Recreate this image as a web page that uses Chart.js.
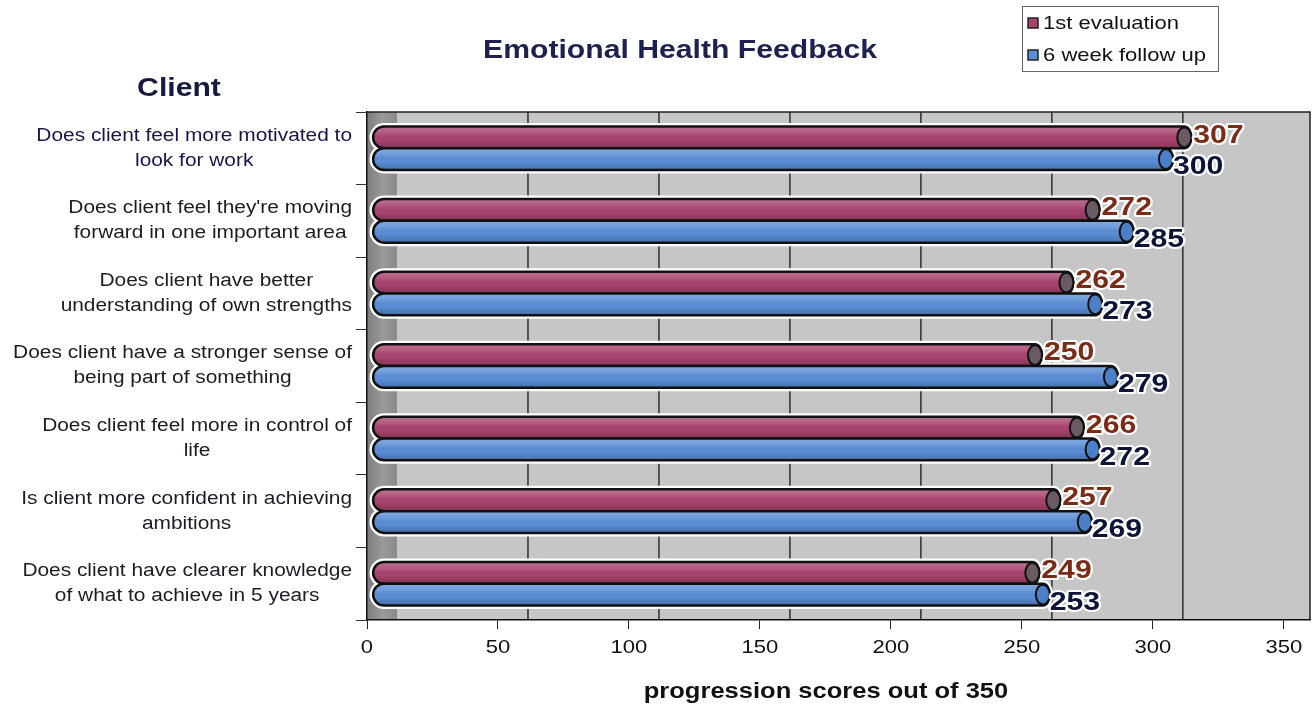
<!DOCTYPE html>
<html>
<head>
<meta charset="utf-8">
<title>Emotional Health Feedback</title>
<script src="https://cdn.jsdelivr.net/npm/chart.js@4.4.1/dist/chart.umd.min.js"></script>
<style>
  html, body { margin: 0; padding: 0; background: #fff; }
  #wrap { width: 1312px; height: 708px; position: relative; }
</style>
</head>
<body>
<div id="wrap"><canvas id="chart" width="1312" height="708"></canvas></div>
<script>
// dane z wykresu
const categories = [
    ['Does client feel more motivated to', 'look for work'],
    ["Does client feel they're moving", 'forward in one important area'],
    ['Does client have better', 'understanding of own strengths'],
    ['Does client have a stronger sense of', 'being part of something'],
    ['Does client feel more in control of', 'life'],
    ['Is client more confident in achieving', 'ambitions'],
    ['Does client have clearer knowledge', 'of what to achieve in 5 years']
];
const seriesNames = ['1st evaluation', '6 week follow up'];
const firstEval = [307, 272, 262, 250, 266, 257, 249];
const followUp = [300, 285, 273, 279, 272, 269, 253];
const xTickValues = [0, 50, 100, 150, 200, 250, 300, 350];

const FONT = '"Liberation Sans", Arial, Helvetica, sans-serif';
const STRETCH = 1.16; // tekst w oryginale jest szerszy
const pink = '#a8436f';
const blue = '#5a8ed6';
const capColors = ['#6a5a61', '#4b80c9'];
const labelColors = ['#7a2c17', '#0c1538'];

// rysowanie rozciagnietego poziomo tekstu
function wideText(ctx, text, x, y, halo) {
    ctx.save();
    ctx.translate(x, y);
    ctx.scale(STRETCH, 1);
    if (halo) {
        ctx.strokeStyle = '#fff';
        ctx.lineWidth = halo;
        ctx.lineJoin = 'round';
        ctx.strokeText(text, 0, 0);
    }
    ctx.fillText(text, 0, 0);
    ctx.restore();
}

// tlo wykresu: szara sciana, lewa sciana 3D, linie siatki przesuniete w glab
const backdrop = {
    id: 'backdrop',
    beforeDraw(chart) {
        const { ctx, chartArea: a } = chart;
        const xs = chart.scales.x;
        const depth = 30;
        ctx.save();
        ctx.fillStyle = '#fff';
        ctx.fillRect(0, 0, chart.width, chart.height);
        ctx.fillStyle = '#c6c6c6';
        ctx.fillRect(a.left, a.top, a.right - a.left, a.bottom - a.top);
        const g = ctx.createLinearGradient(a.left, 0, a.left + depth, 0);
        g.addColorStop(0, '#7d7d7d');
        g.addColorStop(0.5, '#9a9a9a');
        g.addColorStop(1, '#8a8a8a');
        ctx.fillStyle = g;
        ctx.fillRect(a.left, a.top, depth, a.bottom - a.top);
        ctx.strokeStyle = '#243232';
        ctx.lineWidth = 1.5;
        xTickValues.forEach(v => {
            if (v === 0) return;
            const px = xs.getPixelForValue(v) + depth;
            if (px >= a.right - 2) return;
            ctx.beginPath();
            ctx.moveTo(px, a.top);
            ctx.lineTo(px, a.bottom);
            ctx.stroke();
        });
        ctx.strokeStyle = '#222';
        ctx.lineWidth = 1.5;
        ctx.beginPath();
        ctx.moveTo(a.left, a.top);
        ctx.lineTo(a.right, a.top);
        ctx.lineTo(a.right, a.bottom);
        ctx.stroke();
        ctx.restore();
    }
};

function barPath(ctx, x, y, base, h) {
    const r = h / 2;
    const left = base - 7;
    ctx.beginPath();
    ctx.moveTo(left + r, y - r);
    ctx.lineTo(x, y - r);
    ctx.ellipse(x, y, 7, r, 0, -Math.PI / 2, Math.PI / 2);
    ctx.lineTo(left + r, y + r);
    ctx.arc(left + r, y, r, Math.PI / 2, Math.PI * 1.5);
    ctx.closePath();
}

// walce zamiast plaskich slupkow + etykiety wartosci
const cylinders = {
    id: 'cylinders',
    afterDatasetsDraw(chart) {
        const ctx = chart.ctx;
        const items = [];
        chart.data.datasets.forEach((ds, di) => {
            chart.getDatasetMeta(di).data.forEach((el, i) => {
                const p = el.getProps(['x', 'y', 'base', 'height'], true);
                items.push({ di, i, p, color: ds.backgroundColor, value: ds.data[i] });
            });
        });
        ctx.save();
        // bialy obrys
        items.forEach(({ p }) => {
            barPath(ctx, p.x, p.y, p.base, p.height);
            ctx.strokeStyle = '#fff';
            ctx.lineWidth = 7;
            ctx.stroke();
        });
        items.forEach(({ di, p, color }) => {
            const h = p.height;
            barPath(ctx, p.x, p.y, p.base, h);
            ctx.fillStyle = color;
            ctx.fill();
            const g = ctx.createLinearGradient(0, p.y - h / 2, 0, p.y + h / 2);
            g.addColorStop(0, 'rgba(255,255,255,0.25)');
            g.addColorStop(0.3, 'rgba(255,255,255,0.12)');
            g.addColorStop(0.6, 'rgba(0,0,0,0)');
            g.addColorStop(1, 'rgba(0,0,0,0.22)');
            ctx.fillStyle = g;
            ctx.fill();
            ctx.strokeStyle = '#111';
            ctx.lineWidth = 2.5;
            ctx.stroke();
            ctx.beginPath();
            ctx.ellipse(p.x, p.y, 7, h / 2 - 1, 0, 0, Math.PI * 2);
            ctx.fillStyle = capColors[di];
            ctx.fill();
            ctx.lineWidth = 2;
            ctx.stroke();
        });
        ctx.font = 'bold 26px ' + FONT;
        ctx.textBaseline = 'middle';
        ctx.textAlign = 'left';
        items.forEach(({ di, p, value }) => {
            const tx = p.x + (di === 0 ? 9 : 7);
            const ty = p.y + (di === 0 ? -2 : 8);
            ctx.fillStyle = labelColors[di];
            wideText(ctx, String(value), tx, ty, 4);
        });
        ctx.restore();
    }
};

// tytuly, legenda, etykiety osi
const texts = {
    id: 'texts',
    afterDraw(chart) {
        const { ctx } = chart;
        const ys = chart.scales.y;
        const xs = chart.scales.x;
        ctx.save();
        ctx.textBaseline = 'middle';
        ctx.textAlign = 'center';
        ctx.fillStyle = '#1c2150';
        ctx.font = 'bold 26px ' + FONT;
        wideText(ctx, 'Emotional Health Feedback', 680, 51);
        ctx.fillStyle = '#161a3c';
        wideText(ctx, 'Client', 179, 89);

        // etykiety osi X
        ctx.fillStyle = '#111';
        ctx.font = '19px ' + FONT;
        xTickValues.forEach(v => {
            wideText(ctx, String(v), xs.getPixelForValue(v), 648);
        });

        ctx.font = 'bold 22px ' + FONT;
        wideText(ctx, 'progression scores out of 350', 826, 692);

        // etykiety kategorii - kazdy blok wysrodkowany, wyrownany do prawej
        ctx.font = '18px ' + FONT;
        categories.forEach((lines, i) => {
            const cy = ys.getPixelForValue(i);
            const w = Math.max(...lines.map(l => ctx.measureText(l).width)) * STRETCH;
            const cx = 352 - w / 2;
            const lh = 25;
            lines.forEach((l, k) => {
                ctx.fillStyle = i === 0 ? '#17174a' : '#1c1c24';
                wideText(ctx, l, cx, cy + (k - (lines.length - 1) / 2) * lh);
            });
        });

        // legenda
        ctx.strokeStyle = '#666';
        ctx.lineWidth = 1;
        ctx.strokeRect(1022.5, 6.5, 196, 65);
        ctx.textAlign = 'left';
        ctx.font = '19px ' + FONT;
        chart.data.datasets.forEach((ds, di) => {
            const ly = 23 + di * 32;
            ctx.fillStyle = ds.backgroundColor;
            ctx.fillRect(1028, ly - 5, 10, 10);
            ctx.strokeStyle = '#222';
            ctx.lineWidth = 1.5;
            ctx.strokeRect(1028, ly - 5, 10, 10);
            ctx.fillStyle = '#111';
            wideText(ctx, ds.label, 1043, ly + 1);
        });
        ctx.restore();
    }
};

const ctx = document.getElementById('chart').getContext('2d');
const chart = new Chart(ctx, {
    type: 'bar',
    data: {
        labels: categories,
        datasets: [
            { label: seriesNames[0], data: firstEval, backgroundColor: pink, xAxisID: 'xb' },
            { label: seriesNames[1], data: followUp, backgroundColor: blue, xAxisID: 'xb' }
        ]
    },
    options: {
        indexAxis: 'y',
        responsive: false,
        animation: false,
        layout: { padding: { top: 112, right: 2, left: 0, bottom: 0 } },
        datasets: {
            bar: { categoryPercentage: 0.6, barPercentage: 1.0, borderWidth: 0 }
        },
        scales: {
            y: {
                position: 'left',
                offset: true,
                ticks: { display: false },
                grid: { display: true, drawOnChartArea: false, drawTicks: true, tickLength: 11, color: '#333', offset: true },
                border: { display: true, color: '#111', width: 1.5 },
                afterFit(s) { s.width = 367; }
            },
            x: {
                position: 'bottom',
                min: 0,
                max: 360,
                ticks: { display: false, stepSize: 50 },
                afterBuildTicks(s) {
                    s.ticks = xTickValues.map(v => ({ value: v }));
                },
                grid: { display: true, drawOnChartArea: false, drawTicks: true, tickLength: 9, color: '#222' },
                border: { display: true, color: '#111', width: 1.5 },
                afterFit(s) { s.height = 88; }
            },
            xb: {
                type: 'linear',
                axis: 'x',
                position: 'bottom',
                display: false,
                min: -5,
                max: 355
            }
        },
        plugins: {
            legend: { display: false },
            tooltip: { enabled: false },
            title: { display: false }
        }
    },
    plugins: [backdrop, cylinders, texts]
});
</script>
</body>
</html>
